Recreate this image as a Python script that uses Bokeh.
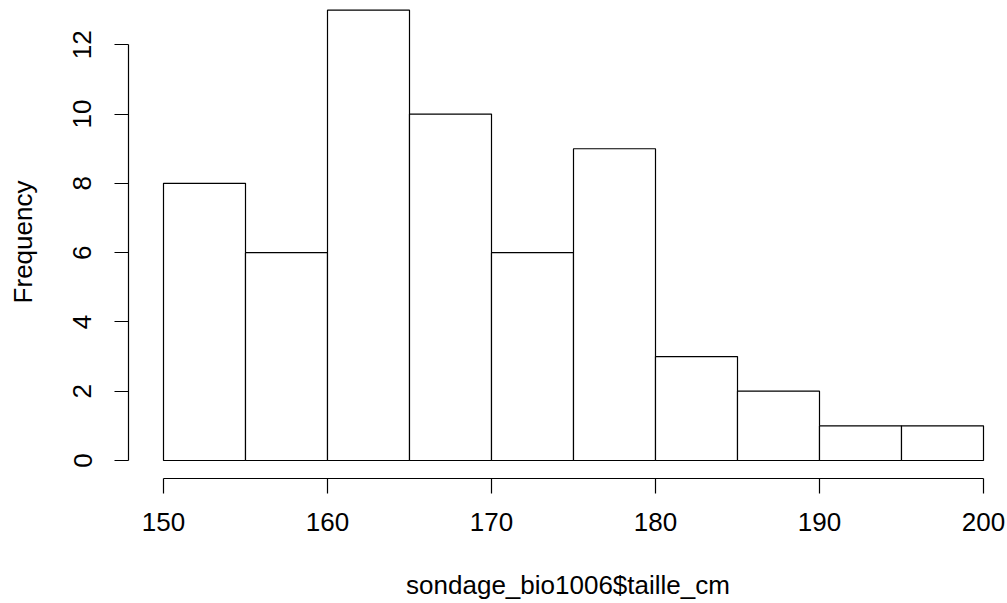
from bokeh.plotting import figure
from bokeh.models import Range1d, FixedTicker
from bokeh.embed import file_html
from bokeh.resources import INLINE

# Histogram data
bin_left = [150, 155, 160, 165, 170, 175, 180, 185, 190, 195]
bin_right = [155, 160, 165, 170, 175, 180, 185, 190, 195, 200]
counts = [8, 6, 13, 10, 6, 9, 3, 2, 1, 1]
x_ticks = [150, 160, 170, 180, 190, 200]
y_ticks = [0, 2, 4, 6, 8, 10, 12]
x_label = "sondage_bio1006$taille_cm"
y_label = "Frequency"

W, H = 1007, 603
left_px, right_px, top_px, bottom_px = 128, 0, 5, 125
frame_w = W - left_px - right_px
frame_h = H - top_px - bottom_px
xs = 820.0 / 50.0
ys = (460 - 44.3) / 12.0
x0 = 150 - (163 - 128) / xs
y0 = -(478 - 460) / ys

p = figure(width=W, height=H, output_backend="svg", toolbar_location=None,
           x_range=Range1d(x0, x0 + frame_w / xs), y_range=Range1d(y0, y0 + frame_h / ys),
           min_border_left=left_px, min_border_right=right_px,
           min_border_top=top_px, min_border_bottom=bottom_px)
p.outline_line_color = None
p.xgrid.visible = False
p.ygrid.visible = False
p.background_fill_color = "white"
p.border_fill_color = "white"

p.quad(left=bin_left, right=bin_right, bottom=0, top=counts,
       fill_color="white", line_color="black", line_width=1.2)

font = "Liberation Sans"
for ax in (p.xaxis[0], p.yaxis[0]):
    ax.axis_line_color = "black"
    ax.axis_line_width = 1.2
    ax.major_tick_line_color = "black"
    ax.major_tick_line_width = 1.2
    ax.minor_tick_line_color = None
    ax.major_tick_in = 0
    ax.major_label_text_font = font
    ax.major_label_text_font_size = "26px"
    ax.major_label_text_color = "black"
    ax.axis_label_text_font = font
    ax.axis_label_text_font_size = "26px"
    ax.axis_label_text_font_style = "normal"
    ax.axis_label_text_color = "black"

xa = p.xaxis[0]
xa.ticker = FixedTicker(ticks=x_ticks)
xa.bounds = (150, 200)
xa.major_tick_out = 15
xa.major_label_standoff = 19
xa.axis_label = x_label
xa.axis_label_standoff = 36

ya = p.yaxis[0]
ya.ticker = FixedTicker(ticks=y_ticks)
ya.bounds = (0, 12)
ya.major_tick_out = 14
ya.major_label_orientation = "vertical"
ya.major_label_standoff = 23
ya.axis_label = y_label
ya.axis_label_standoff = 33

open("out.html", "w").write(file_html(p, INLINE))
